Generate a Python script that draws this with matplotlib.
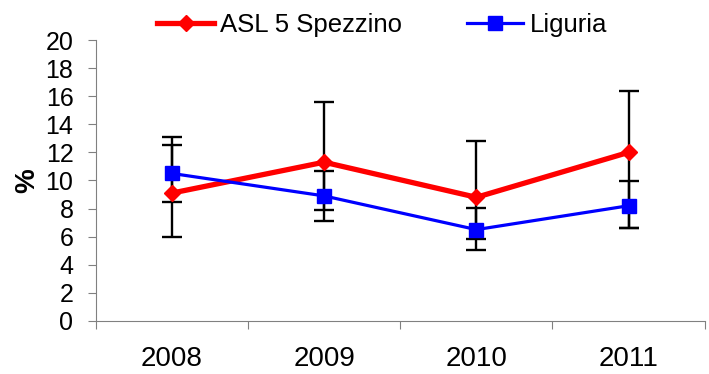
import matplotlib.pyplot as plt
import numpy as np

plt.rcParams["font.family"] = ["Liberation Sans", "DejaVu Sans"]

years = ["2008", "2009", "2010", "2011"]

asl = [9.1, 11.3, 8.8, 12.0]
asl_low = [6.0, 7.9, 5.8, 6.6]
asl_high = [13.1, 15.6, 12.8, 16.4]

liguria = [10.5, 8.9, 6.5, 8.2]
liguria_low = [8.5, 7.1, 5.05, 6.6]
liguria_high = [12.5, 10.7, 8.05, 9.95]

x = np.arange(len(years))

fig = plt.figure(figsize=(7.09, 3.74), dpi=100)
ax = fig.add_axes([0.135, 0.142, 0.859, 0.751])

for vals, lo, hi in [(asl, asl_low, asl_high), (liguria, liguria_low, liguria_high)]:
    vals = np.array(vals)
    yerr = [vals - np.array(lo), np.array(hi) - vals]
    ax.errorbar(x, vals, yerr=yerr, fmt="none", ecolor="black",
                elinewidth=1.7, capsize=7, capthick=1.7, zorder=2)

ax.plot(x, asl, color="#ff0000", lw=3.8, marker="D", ms=8,
        label="ASL 5 Spezzino", zorder=3)
ax.plot(x, liguria, color="#0000ff", lw=2.3, marker="s", ms=10,
        label="Liguria", zorder=4)

ax.set_xlim(-0.5, 3.5)
ax.set_ylim(0, 20)
ax.set_yticks(range(0, 21, 2))
ax.set_xticks(np.arange(-0.5, 4, 1))
ax.set_xticklabels([])
ax.set_xticks(x, minor=True)
ax.set_xticklabels(years, minor=True, fontsize=20)
ax.tick_params(axis="x", which="minor", length=0, pad=18)
ax.tick_params(axis="x", which="major", length=6, color="#808080")
ax.tick_params(axis="y", length=6, color="#808080", labelsize=18, pad=10)

for side in ["top", "right"]:
    ax.spines[side].set_visible(False)
for side in ["left", "bottom"]:
    ax.spines[side].set_color("#808080")

ax.set_ylabel("%", fontsize=20, fontweight="bold", labelpad=4)

fig.legend(loc="center", bbox_to_anchor=(0.539, 0.932), ncol=2, frameon=False,
           fontsize=18.5, handlelength=2.2, handletextpad=0.25, columnspacing=2.5)

fig.savefig("out.png", dpi=100)
